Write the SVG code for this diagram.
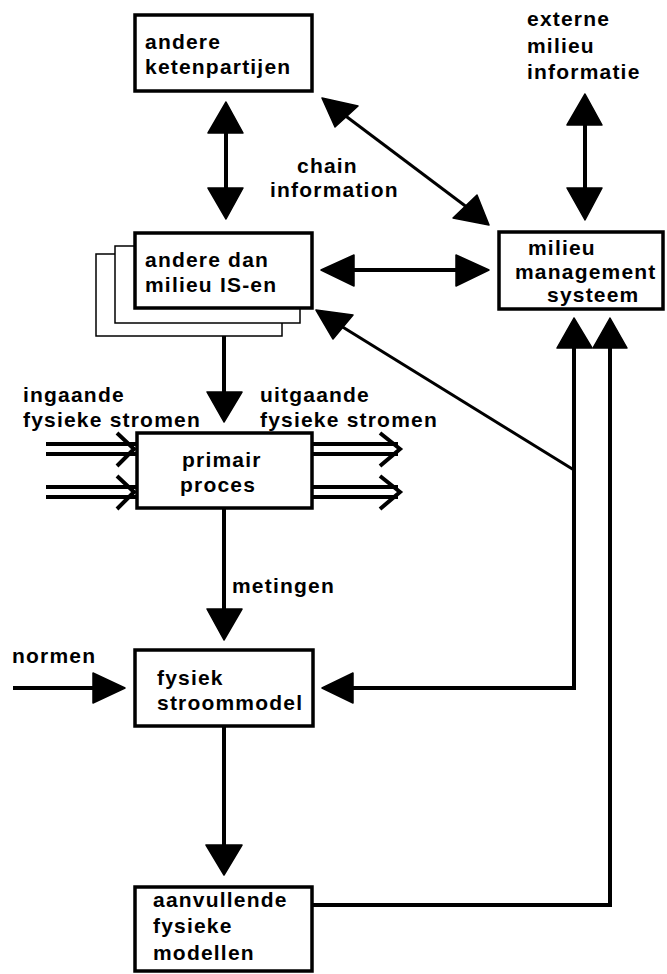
<svg xmlns="http://www.w3.org/2000/svg" width="667" height="974" viewBox="0 0 667 974">
  <style>
    .box { fill: #fff; stroke: #000; stroke-width: 3.5; }
    .ghost { fill: #fff; stroke: #000; stroke-width: 1.5; }
    .lbl { font-family: "Liberation Sans", Arial, sans-serif; font-weight: bold; font-size: 21px; letter-spacing: 1.2px; fill: #000; }
    .ln { fill: none; stroke: #000; stroke-width: 4; stroke-linecap: butt; stroke-linejoin: miter; }
    .thin { fill: none; stroke: #000; stroke-width: 3; }
    .head { fill: #000; stroke: #000; stroke-width: 1.5; stroke-linejoin: round; }
  </style>
  <rect width="667" height="974" fill="#fff"/>

  <!-- connectors -->
  <g id="connectors">
    <!-- ketenpartijen <-> andere IS -->
    <line class="ln" x1="226" y1="130" x2="226" y2="191"/>
    <polygon class="head" points="226,102 208,133 243,133"/>
    <polygon class="head" points="226,219 208,188 243,188"/>

    <!-- chain information -->
    <line class="thin" x1="343" y1="114" x2="468" y2="208"/>
    <polygon class="head" points="322,98 358,106 335,127"/>
    <polygon class="head" points="489,225 453,218 477,195"/>

    <!-- externe milieu informatie <-> management systeem -->
    <line class="ln" x1="585" y1="122" x2="585" y2="191"/>
    <polygon class="head" points="585,94 567,125 602,125"/>
    <polygon class="head" points="585,220 567,188 602,188"/>

    <!-- andere IS <-> management systeem -->
    <line class="ln" x1="351" y1="270" x2="459" y2="270"/>
    <polygon class="head" points="321,270 354,255 354,286"/>
    <polygon class="head" points="489,270 456,255 456,286"/>

    <!-- andere IS -> primair proces -->
    <line class="ln" x1="224" y1="308" x2="224" y2="395"/>
    <polygon class="head" points="224,422 207,392 242,392"/>

    <!-- primair proces -> fysiek stroommodel (metingen) -->
    <line class="ln" x1="224" y1="508" x2="224" y2="612"/>
    <polygon class="head" points="224,640 207,609 242,609"/>

    <!-- fysiek stroommodel -> aanvullende modellen -->
    <line class="ln" x1="224" y1="726" x2="224" y2="848"/>
    <polygon class="head" points="224,875 206,845 242,845"/>

    <!-- normen -> fysiek stroommodel -->
    <line class="ln" x1="13" y1="688" x2="96" y2="688" stroke-linecap="round"/>
    <polygon class="head" points="125,688 93,673 93,703"/>

    <!-- management systeem -> fysiek stroommodel -->
    <polyline class="ln" points="350,688 574,688 574,345"/>
    <polygon class="head" points="322,688 353,673 353,703"/>
    <polygon class="head" points="574,318 557,348 592,348"/>

    <!-- branch to andere IS -->
    <line class="thin" x1="574" y1="470" x2="341" y2="326"/>
    <polygon class="head" points="316,310 353,315 333,339"/>

    <!-- aanvullende modellen -> management systeem -->
    <polyline class="ln" points="312,905 610,905 610,345"/>
    <polygon class="head" points="610,318 593,348 627,348"/>

    <!-- physical flows in -->
    <line class="ln" x1="46" y1="444" x2="137" y2="444"/>
    <line class="ln" x1="46" y1="454" x2="137" y2="454"/>
    <line class="ln" x1="46" y1="487" x2="137" y2="487"/>
    <line class="ln" x1="46" y1="497" x2="137" y2="497"/>
    <polyline class="ln" points="117,433 134,449 117,466"/>
    <polyline class="ln" points="117,476 134,492 117,509"/>

    <!-- physical flows out -->
    <line class="ln" x1="312" y1="444" x2="398" y2="444"/>
    <line class="ln" x1="312" y1="454" x2="398" y2="454"/>
    <line class="ln" x1="312" y1="487" x2="398" y2="487"/>
    <line class="ln" x1="312" y1="497" x2="398" y2="497"/>
    <polyline class="ln" points="380,433 400,449 380,466"/>
    <polyline class="ln" points="380,476 400,492 380,509"/>
  </g>

  <!-- nodes -->
  <g id="ketenpartijen">
    <rect class="box" x="135" y="15" width="177" height="76"/>
    <text class="lbl" x="145" y="49">andere</text>
    <text class="lbl" x="145" y="74">ketenpartijen</text>
  </g>

  <g id="externe-info">
    <text class="lbl" x="527" y="26">externe</text>
    <text class="lbl" x="527" y="53">milieu</text>
    <text class="lbl" x="527" y="79">informatie</text>
  </g>

  <g id="chain-label">
    <text class="lbl" x="297" y="173">chain</text>
    <text class="lbl" x="270" y="197">information</text>
  </g>

  <g id="andere-is">
    <rect class="ghost" x="96" y="254" width="186" height="82"/>
    <rect class="ghost" x="115" y="246" width="185" height="77"/>
    <rect class="box" x="135" y="233" width="177" height="75"/>
    <text class="lbl" x="145" y="267">andere dan</text>
    <text class="lbl" x="145" y="292">milieu IS-en</text>
  </g>

  <g id="management-systeem">
    <rect class="box" x="499" y="232" width="164" height="77"/>
    <text class="lbl" x="528" y="255">milieu</text>
    <text class="lbl" x="515" y="279">management</text>
    <text class="lbl" x="547" y="302">systeem</text>
  </g>

  <g id="flow-labels">
    <text class="lbl" x="23" y="402">ingaande</text>
    <text class="lbl" x="23" y="427">fysieke stromen</text>
    <text class="lbl" x="260" y="402">uitgaande</text>
    <text class="lbl" x="260" y="427">fysieke stromen</text>
  </g>

  <g id="primair-proces">
    <rect class="box" x="137" y="433" width="175" height="75"/>
    <text class="lbl" x="182" y="467">primair</text>
    <text class="lbl" x="180" y="492">proces</text>
  </g>

  <g id="metingen-label">
    <text class="lbl" x="232" y="593">metingen</text>
  </g>

  <g id="normen-label">
    <text class="lbl" x="12" y="663">normen</text>
  </g>

  <g id="fysiek-stroommodel">
    <rect class="box" x="135" y="650" width="178" height="76"/>
    <text class="lbl" x="157" y="685">fysiek</text>
    <text class="lbl" x="157" y="710">stroommodel</text>
  </g>

  <g id="aanvullende-modellen">
    <rect class="box" x="135" y="887" width="177" height="84"/>
    <text class="lbl" x="153" y="907">aanvullende</text>
    <text class="lbl" x="153" y="933">fysieke</text>
    <text class="lbl" x="153" y="960">modellen</text>
  </g>
</svg>
